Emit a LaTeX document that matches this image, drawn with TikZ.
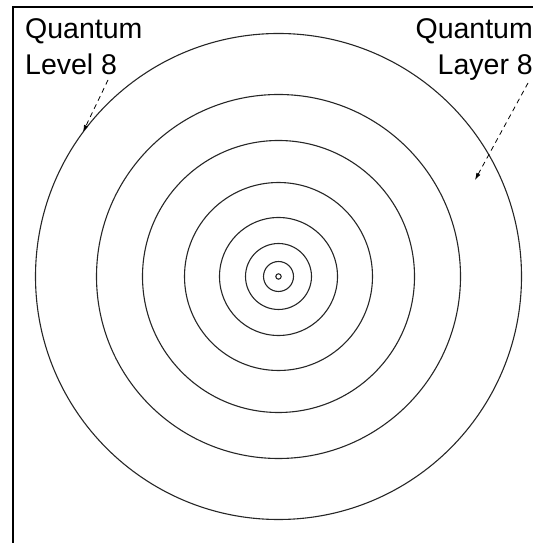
\documentclass[tikz,border=0pt]{standalone}
\usepackage{fontspec}
\setmainfont{Liberation Sans}
\usepackage{tikz}
\usetikzlibrary{arrows.meta, positioning}

\tikzset{
  ring/.style={line width=1.1pt, black!85},
  lbl/.style={inner sep=0pt, font=\fontsize{28.5}{36}\selectfont},
  pointer/.style={dashed, dash pattern=on 5pt off 4pt, line width=0.8pt, -{Latex[length=7pt, width=4.5pt]}}
}

\begin{document}
\begin{tikzpicture}[x=1pt, y=1pt]
    \useasboundingbox (0,0) rectangle (533,543);
    % frame
    \draw[line width=2pt] (13,0) -- (13,536) -- (533,536);
    % rings
    \coordinate (ctr) at (278.5,266.5);
    \foreach \r in {243,182,136,94,59,33,15,2.7}
      \draw[ring] (ctr) circle (\r);
    % labels
    \node[lbl, anchor=base west, align=left] (level) at (25,468) {Quantum\\Level 8};
    \node[lbl, anchor=base east, align=right] (layer) at (533,468) {Quantum\\Layer 8};
    % pointers
    \coordinate (levelfrom) at (108,463);
    \coordinate (levelto) at (83,411);
    \coordinate (layerfrom) at (528,460);
    \coordinate (layerto) at (475,363);
    \draw[pointer] (levelfrom) -- (levelto);
    \draw[pointer] (layerfrom) -- (layerto);
  \end{tikzpicture}
\end{document}
